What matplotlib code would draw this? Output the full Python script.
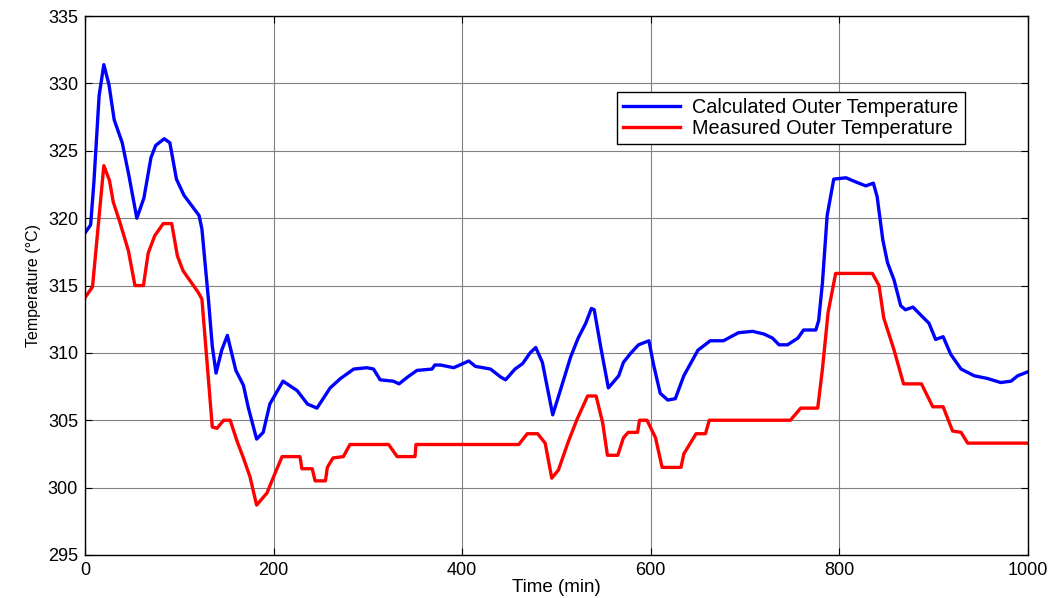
import numpy as np
import matplotlib.pyplot as plt

plt.rcParams['font.family'] = ['Liberation Sans', 'DejaVu Sans']

# calculated outer temperature (blue)
calc_t = [0, 6, 9.5, 15, 20, 25.5, 31, 39.5, 46.5, 55, 62.5, 70, 75, 84, 90,
          97, 105, 121, 124,
          131, 135, 139, 145, 151, 160, 168, 173, 182, 189, 196, 210, 225, 236,
          246, 260, 271, 285, 299, 306, 313, 327, 333, 342, 352, 368, 371, 377,
          391, 407, 414, 430, 441, 446, 456, 464, 472, 478, 485, 496, 504, 515,
          523, 531, 537, 540, 547, 555, 566, 571, 579, 587, 598, 603, 610, 618,
          626, 635, 650, 663, 677, 693, 708, 720, 729, 736, 745, 756, 762, 775,
          778, 782, 787, 794, 807, 817, 828, 836, 840, 846, 851, 858, 865, 870,
          878, 885, 895, 902, 910, 918, 929, 943, 957, 971, 982, 989, 1000]
calc_T = [318.9, 319.5, 322.7, 329.1, 331.4, 329.9, 327.3, 325.6, 323.2, 320.0,
          321.5, 324.5, 325.4, 325.9, 325.6, 322.9, 321.7, 320.2, 319.2,
          313.9, 310.5, 308.5, 310.2, 311.3, 308.7, 307.6, 306.0, 303.6, 304.1,
          306.2, 307.9, 307.2, 306.2, 305.9, 307.4, 308.1, 308.8, 308.9, 308.8,
          308.0, 307.9, 307.7, 308.2, 308.7, 308.8, 309.1, 309.1, 308.9, 309.4,
          309.0, 308.8, 308.2, 308.0, 308.8, 309.2, 310.0, 310.4, 309.3, 305.4,
          307.2, 309.7, 311.1, 312.2, 313.3, 313.2, 310.4, 307.4, 308.3, 309.3,
          310.0, 310.6, 310.9, 309.1, 307.0, 306.5, 306.6, 308.3, 310.2, 310.9,
          310.9, 311.5, 311.6, 311.4, 311.1, 310.6, 310.6, 311.1, 311.7, 311.7,
          312.4, 315.2, 320.2, 322.9, 323.0, 322.7, 322.4, 322.6, 321.6, 318.4,
          316.7, 315.4, 313.5, 313.2, 313.4, 312.9, 312.2, 311.0, 311.2, 309.9,
          308.8, 308.3, 308.1, 307.8, 307.9, 308.3, 308.6]

# measured outer temperature (red)
meas_t = [0, 8, 20, 26, 30, 37, 46, 53, 62, 67, 74, 83, 92, 98, 104, 111, 120,
          124, 135, 140, 147, 154, 161, 168, 175, 182, 193, 200, 209, 228, 230,
          241, 244, 255, 257, 263, 274, 281, 322, 331, 350, 351, 460, 469, 480,
          488, 495, 502, 513, 522, 533, 542, 549, 554, 565, 571, 576, 586, 588,
          596, 605, 612, 632, 635, 648, 658, 662, 748, 759, 777, 782, 788, 796,
          835, 842, 847, 858, 868, 887, 899, 910, 920, 929, 936, 1000]
meas_T = [314.1, 314.9, 323.9, 322.8, 321.2, 319.7, 317.6, 315.0, 315.0, 317.4,
          318.7, 319.6, 319.6, 317.2, 316.1, 315.4, 314.5,
          314.0, 304.5, 304.4, 305.0, 305.0, 303.5, 302.2, 300.8, 298.7, 299.6,
          300.8, 302.3, 302.3, 301.4, 301.4, 300.5, 300.5, 301.5, 302.2, 302.3,
          303.2, 303.2, 302.3, 302.3, 303.2, 303.2, 304.0, 304.0, 303.3, 300.7,
          301.3, 303.5, 305.1, 306.8, 306.8, 304.8, 302.4, 302.4, 303.7, 304.1,
          304.1, 305.0, 305.0, 303.7, 301.5, 301.5, 302.5, 304.0, 304.0, 305.0,
          305.0, 305.9, 305.9, 308.8, 313.0, 315.9, 315.9, 315.0, 312.6, 310.2,
          307.7, 307.7, 306.0, 306.0, 304.2, 304.1, 303.3, 303.3]

fig = plt.figure(figsize=(10.49, 5.98), dpi=100)
ax = fig.add_axes([0.081, 0.072, 0.899, 0.901])

ax.plot(calc_t, calc_T, color='#0000ff', linewidth=2.4,
        solid_joinstyle='round', label='Calculated Outer Temperature')
ax.plot(meas_t, meas_T, color='#ff0000', linewidth=2.4,
        solid_joinstyle='round', label='Measured Outer Temperature')

ax.set_xlim(0, 1000)
ax.set_ylim(295, 335)
ax.set_xticks(np.arange(0, 1001, 200))
ax.set_yticks(np.arange(295, 336, 5))
ax.grid(True, color='#808080', linewidth=0.8, linestyle='-')
ax.tick_params(direction='in', top=True, right=True, labelsize=13, length=5,
               pad=5)
for s in ax.spines.values():
    s.set_linewidth(1.0)

ax.set_xlabel('Time (min)', fontsize=13.5, labelpad=0)
ax.set_ylabel('Temperature (\u00b0C)', fontsize=11.5, labelpad=5)

leg = ax.legend(loc='upper left', bbox_to_anchor=(0.588, 0.846),
                bbox_transform=fig.transFigure, borderaxespad=0,
                fancybox=False, framealpha=1, edgecolor='black',
                fontsize=14.3, handlelength=2.9, labelspacing=0.12,
                borderpad=0.3, handletextpad=0.6)
leg.get_frame().set_linewidth(1.0)

fig.savefig('out.png', dpi=100)
